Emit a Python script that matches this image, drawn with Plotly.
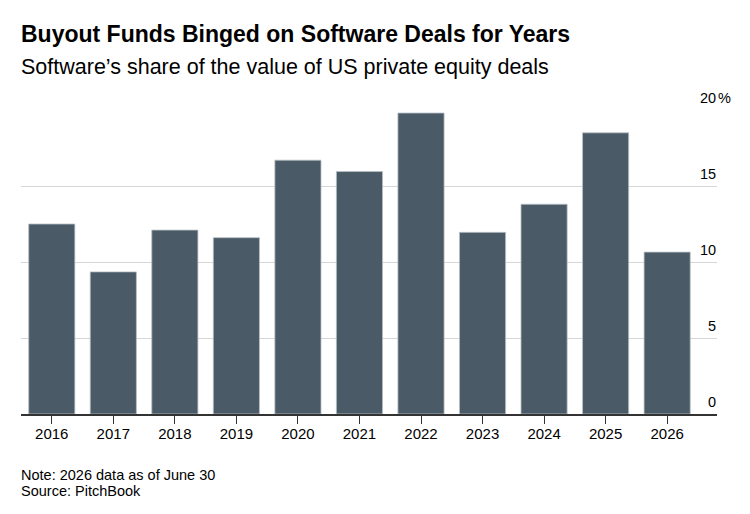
import plotly.graph_objects as go

years = [2016, 2017, 2018, 2019, 2020, 2021, 2022, 2023, 2024, 2025, 2026]
share = [12.5, 9.35, 12.1, 11.6, 16.7, 15.95, 19.8, 11.95, 13.8, 18.5, 10.65]
y_ticks = [0, 5, 10, 15, 20]

title = "Buyout Funds Binged on Software Deals for Years"
subtitle = "Software’s share of the value of US private equity deals"
note = "Note: 2026 data as of June 30"
source = "Source: PitchBook"

W, H = 750, 514
ML, MR, MT, MB = 21, 33, 110, 100
PH = H - MT - MB
FONT = "Liberation Sans, Arial, sans-serif"


def py(px):
    # pixel row from top -> paper y
    return (H - MB - px) / PH


fig = go.Figure(
    go.Bar(
        x=years,
        y=share,
        marker=dict(color="#4a5b67", line=dict(color="#b9c0c5", width=0.8)),
        hoverinfo="skip",
    )
)

annotations = [
    dict(text=f"<b>{title}</b>", x=0, xref="paper", y=py(34), yref="paper",
         xanchor="left", yanchor="middle", showarrow=False,
         font=dict(size=23, color="#000000", family=FONT), xshift=-2),
    dict(text=subtitle, x=0, xref="paper", y=py(67), yref="paper",
         xanchor="left", yanchor="middle", showarrow=False,
         font=dict(size=21.5, color="#000000", family=FONT), xshift=-2),
    dict(text=note, x=0, xref="paper", y=py(475), yref="paper",
         xanchor="left", yanchor="middle", showarrow=False,
         font=dict(size=14.5, color="#000000", family=FONT), xshift=-2),
    dict(text=source, x=0, xref="paper", y=py(491), yref="paper",
         xanchor="left", yanchor="middle", showarrow=False,
         font=dict(size=14.5, color="#000000", family=FONT), xshift=-2),
]
for v in y_ticks:
    annotations.append(dict(text=str(v), x=1, xref="paper", y=v, yref="y",
                            xanchor="right", yanchor="bottom", yshift=2,
                            xshift=1, showarrow=False,
                            font=dict(size=14.5, color="#000000", family=FONT)))
annotations.append(dict(text="%", x=1, xref="paper", y=y_ticks[-1], yref="y",
                        xanchor="left", yanchor="bottom", yshift=2, xshift=-1,
                        showarrow=False,
                        font=dict(size=14.5, color="#000000", family=FONT)))

fig.update_layout(
    width=W, height=H,
    margin=dict(l=ML, r=MR, t=MT, b=MB, pad=0),
    paper_bgcolor="#ffffff", plot_bgcolor="#ffffff",
    bargap=0.25,
    showlegend=False,
    annotations=annotations,
    font=dict(family=FONT, color="#000000"),
    xaxis=dict(
        range=[years[0] - 0.5, years[-1] + 0.81],
        tickvals=years, ticktext=[str(y) for y in years],
        ticks="outside", ticklen=8, tickwidth=1, tickcolor="#333333",
        ticklabelstandoff=-3,
        showgrid=False, zeroline=False,
        showline=True, linecolor="#333333", linewidth=1.5,
        tickfont=dict(size=15, color="#000000", family=FONT),
        fixedrange=True,
    ),
    yaxis=dict(
        range=[0, 20], tickvals=y_ticks, showticklabels=False,
        showgrid=True, gridcolor="#d6d6d6", gridwidth=1,
        zeroline=False, showline=False, ticks="",
        fixedrange=True,
    ),
)

fig.write_html(
    "out.html",
    config={"displayModeBar": False},
    post_script="document.body.style.margin='0';document.body.style.overflow='hidden';",
)
